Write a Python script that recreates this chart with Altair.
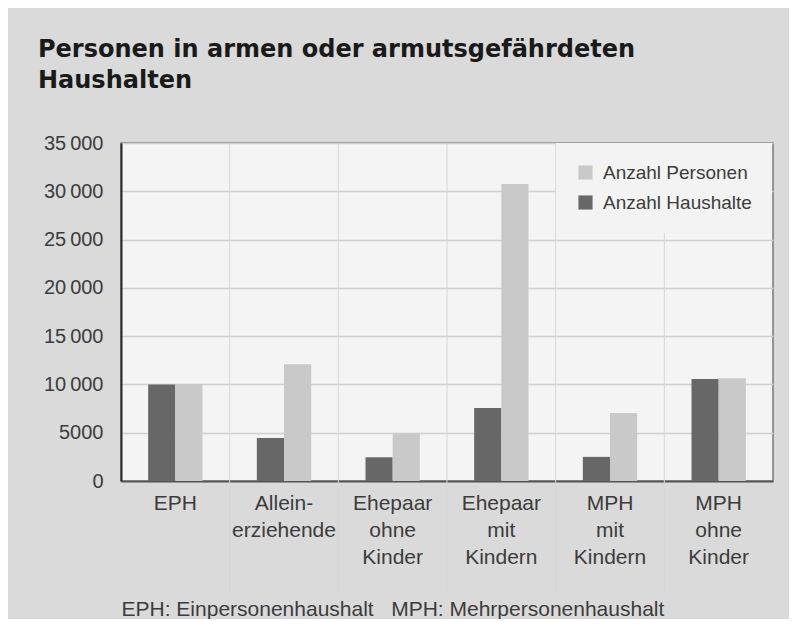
import altair as alt
import pandas as pd

# ---- data ----
categories = ["EPH", "Allein-|erziehende", "Ehepaar|ohne|Kinder",
              "Ehepaar|mit|Kindern", "MPH|mit|Kindern", "MPH|ohne|Kinder"]
haushalte = [10000, 4450, 2450, 7550, 2500, 10550]
personen = [10050, 12100, 4970, 30750, 7040, 10650]
series_legend = ["Anzahl Personen", "Anzahl Haushalte"]
series_order = ["Anzahl Haushalte", "Anzahl Personen"]
series_colors = ["#c9c9c9", "#676767"]
y_ticks = [0, 5000, 10000, 15000, 20000, 25000, 30000, 35000]
title_lines = ["Personen in armen oder armutsgefährdeten", "Haushalten"]
footnote = "EPH: Einpersonenhaushalt\u00a0\u00a0\u00a0MPH: Mehrpersonenhaushalt"

rows = []
for c, h, p in zip(categories, haushalte, personen):
    rows.append({"Kategorie": c, "Reihe": "Anzahl Haushalte", "Wert": h})
    rows.append({"Kategorie": c, "Reihe": "Anzahl Personen", "Wert": p})
df = pd.DataFrame(rows)
bounds = pd.DataFrame({"Kategorie": categories[1:]})

W, H = 652, 338
FONT = "Liberation Sans"
TXT = "#3c3c3c"

xscale = alt.Scale(domain=categories, paddingInner=0, paddingOuter=0)
xaxis = alt.Axis(labelExpr="split(datum.label, '|')", labelAngle=0,
                 labelFontSize=21, labelLineHeight=27, labelColor=TXT,
                 labelFont=FONT, labelPadding=11, ticks=False, grid=False,
                 domainColor="#555555", domainWidth=2,
                 title=footnote, titleFont=FONT, titleFontSize=21,
                 titleFontWeight="normal", titleColor=TXT,
                 titleAnchor="start", titleAlign="left",
                 titleX=0, titleY=134, titleBaseline="alphabetic")

bars = alt.Chart(df).mark_bar().encode(
    x=alt.X("Kategorie:N", scale=xscale, axis=xaxis),
    xOffset=alt.XOffset("Reihe:N", sort=series_order,
                        scale=alt.Scale(paddingInner=0, paddingOuter=1)),
    y=alt.Y("Wert:Q", scale=alt.Scale(domain=[0, 35000], nice=False),
            axis=alt.Axis(values=y_ticks, title=None, ticks=False,
                          labelFontSize=20, labelColor=TXT, labelFont=FONT,
                          labelPadding=18, domainColor="#2a2a2a", domainWidth=2,
                          gridColor="#d0d0d0", gridWidth=1.5,
                          labelExpr="datum.value >= 10000 ? format(floor(datum.value/1000), 'd') + '\u2009000' : format(datum.value, 'd')")),
    color=alt.Color("Reihe:N",
                    scale=alt.Scale(domain=series_legend, range=series_colors),
                    legend=alt.Legend(title=None, orient="none", legendX=435, legendY=0,
                                      fillColor="#f3f3f3", padding=20,
                                      symbolType="square", symbolSize=200,
                                      symbolStrokeWidth=0, labelFontSize=19,
                                      labelFont=FONT, labelColor=TXT,
                                      labelOffset=8, rowPadding=10)),
)

rules = alt.Chart(bounds).mark_rule(color="#d6d6d6", strokeWidth=1).encode(
    x=alt.X("Kategorie:N", scale=xscale, bandPosition=0, axis=xaxis),
    y=alt.value(0),
    y2=alt.value(H + 113),
)

chart = alt.layer(rules, bars).properties(
    width=W, height=H,
    background="#dadada",
    autosize=alt.AutoSizeParams(type="none"),
    padding={"left": 113, "top": 135, "right": 16, "bottom": 138},
    title=alt.Title(title_lines, anchor="start", frame="group", font="DejaVu Sans",
                    fontSize=24, fontWeight="bold", color="#1a1a1a",
                    dx=-83, lineHeight=31, offset=40),
).configure_view(fill="#f4f4f4", stroke="#7a7a7a", strokeWidth=1.5)

chart.save("out.html", embed_options={"renderer": "svg", "actions": False})
